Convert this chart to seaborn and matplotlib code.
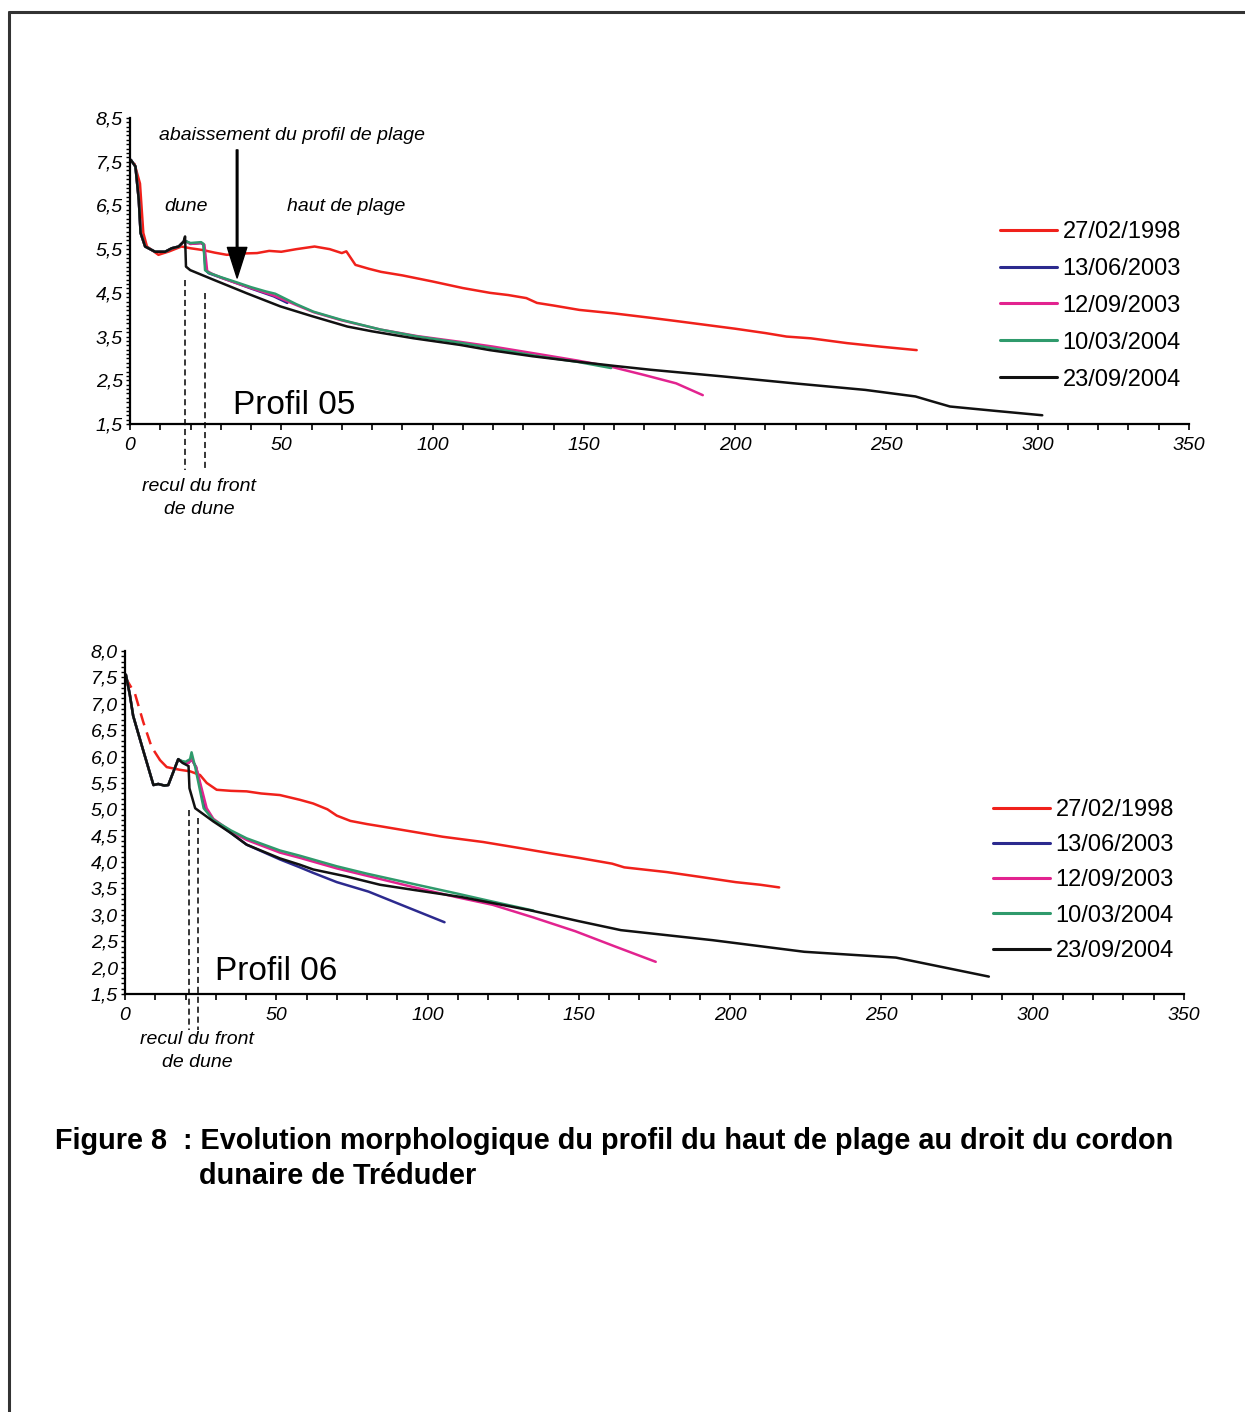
import matplotlib
matplotlib.use("Agg")
import matplotlib.pyplot as plt
from matplotlib.lines import Line2D
from matplotlib.ticker import MultipleLocator
import pandas as pd
import seaborn as sns

# survey dates and their colours
DATES = ["27/02/1998", "13/06/2003", "12/09/2003", "10/03/2004", "23/09/2004"]
COLORS = ["#f0211b", "#2c2a8e", "#e2238f", "#2f9a6c", "#111111"]

# ---------------- Profil 05 (distance m, altitude m) ----------------
p05_1998_x = [1.5, 3.3, 4.4, 5.6, 9.4, 13, 17, 20, 24, 28, 32, 37, 42, 46, 50, 55, 61, 66, 70,
              71.5, 74.5, 79, 83, 90, 100, 110, 119, 125, 131, 134.5, 140, 148.5, 160, 172,
              180, 190, 200, 210, 217, 225, 237, 248, 260]
p05_1998_y = [7.45, 7.0, 5.87, 5.56, 5.37, 5.45, 5.56, 5.52, 5.48, 5.42, 5.37, 5.40, 5.41, 5.46,
              5.44, 5.50, 5.56, 5.50, 5.41, 5.45, 5.14, 5.05, 4.98, 4.90, 4.76, 4.61, 4.50, 4.45,
              4.38, 4.27, 4.21, 4.11, 4.03, 3.93, 3.86, 3.77, 3.68, 3.58, 3.50, 3.46, 3.35, 3.27,
              3.19]

# dune part shared by the 2003/2004 surveys
p05_dune_x = [0.3, 1.8, 2.9, 3.5, 5.0, 8.3, 11.6, 13.8, 16.1, 17.7]
p05_dune_y = [7.54, 7.39, 6.63, 5.87, 5.56, 5.44, 5.44, 5.52, 5.56, 5.67]

p05_2003a_x = p05_dune_x + [18.5, 20, 23.5, 24.3, 25.0, 26, 30, 35.3, 40, 47.5, 52]
p05_2003a_y = p05_dune_y + [5.68, 5.62, 5.64, 5.60, 5.02, 4.95, 4.85, 4.72, 4.60, 4.42, 4.27]

p05_2003b_x = p05_dune_x + [18.5, 20, 23.5, 24.6, 25.5, 27, 30, 35.3, 40, 47.5, 55, 60.6, 70,
                            82.8, 95, 109, 120, 135, 148, 159, 170, 180.5, 189.3]
p05_2003b_y = p05_dune_y + [5.68, 5.62, 5.64, 5.60, 5.00, 4.94, 4.85, 4.72, 4.61, 4.44, 4.22,
                            4.06, 3.87, 3.66, 3.51, 3.38, 3.27, 3.10, 2.95, 2.81, 2.62, 2.43, 2.16]

p05_2004a_x = p05_dune_x + [18.5, 20, 23.5, 24.3, 24.8, 26, 30, 35.3, 40, 45, 48, 55, 60.6, 70,
                            82.8, 95, 109, 120, 135, 148, 159]
p05_2004a_y = p05_dune_y + [5.68, 5.64, 5.66, 5.62, 5.02, 4.96, 4.86, 4.74, 4.63, 4.53, 4.48,
                            4.24, 4.07, 3.88, 3.66, 3.50, 3.36, 3.23, 3.05, 2.92, 2.78]

p05_2004b_x = p05_dune_x + [18.2, 18.5, 19.9, 27.6, 38.6, 49.7, 60, 71.8, 80, 93.8, 109, 118.9,
                            133, 148.5, 160, 172.2, 195.7, 219.5, 243, 259.6, 265, 271, 286, 301.5]
p05_2004b_y = p05_dune_y + [5.79, 5.10, 5.02, 4.80, 4.49, 4.19, 3.97, 3.73, 3.62, 3.46, 3.31,
                            3.19, 3.05, 2.92, 2.83, 2.74, 2.59, 2.43, 2.28, 2.13, 2.02, 1.90,
                            1.80, 1.70]

# ---------------- Profil 06 ----------------
p06_1998_gap_x = [0.0, 3.3, 6.0, 8.8, 11.6]
p06_1998_gap_y = [7.51, 7.19, 6.66, 6.18, 5.93]
p06_1998_x = [11.6, 13.8, 18, 21.5, 24.8, 27, 30.3, 35, 40.2, 45, 51.2, 57.8, 62.2, 66.9, 70,
              74.5, 80, 84.3, 95.7, 105, 118.4, 130, 141.2, 150, 161, 165, 179.1, 190, 201.8,
              210, 216.2]
p06_1998_y = [5.93, 5.80, 5.75, 5.72, 5.65, 5.50, 5.37, 5.35, 5.34, 5.30, 5.27, 5.18, 5.11, 5.00,
              4.88, 4.78, 4.72, 4.68, 4.57, 4.48, 4.38, 4.27, 4.16, 4.08, 3.97, 3.90, 3.81, 3.72,
              3.62, 3.57, 3.52]

p06_dune_x = [0.3, 1.6, 2.7, 6.0, 9.4, 11, 13, 14.3, 17.6]
p06_dune_y = [7.55, 7.17, 6.77, 6.12, 5.46, 5.48, 5.45, 5.46, 5.95]

p06_2003a_x = p06_dune_x + [19, 21, 22, 23.5, 26.5, 29.2, 35, 40.2, 51.2, 57.8, 62, 70, 80.5,
                            90, 105.6]
p06_2003a_y = p06_dune_y + [5.90, 5.88, 5.95, 5.80, 5.02, 4.80, 4.55, 4.33, 4.05, 3.90, 3.80,
                            3.62, 3.44, 3.22, 2.86]

p06_2003b_x = p06_dune_x + [19, 21, 22, 23.5, 27, 29.2, 35, 40.2, 51.2, 57.8, 70, 80, 95.7, 110,
                            121.5, 135, 148.8, 162, 175.4]
p06_2003b_y = p06_dune_y + [5.90, 5.88, 5.95, 5.80, 5.02, 4.82, 4.58, 4.42, 4.18, 4.08, 3.88,
                            3.74, 3.52, 3.33, 3.19, 2.95, 2.69, 2.40, 2.11]

p06_2004a_x = p06_dune_x + [18.5, 20, 21.5, 22, 23.2, 26, 29.2, 35, 40.2, 51.2, 57.8, 70, 80,
                            95.7, 110, 120, 135]
p06_2004a_y = p06_dune_y + [5.92, 5.90, 5.95, 6.08, 5.80, 5.02, 4.80, 4.60, 4.45, 4.22, 4.12,
                            3.92, 3.78, 3.58, 3.40, 3.27, 3.08]

p06_2004b_x = p06_dune_x + [19, 21, 21.3, 23.2, 29.2, 35, 40.2, 51.2, 57.8, 62.2, 73, 84.3, 95.7,
                            110.9, 133.6, 150, 163.9, 194.2, 224.5, 254.8, 285.5]
p06_2004b_y = p06_dune_y + [5.88, 5.82, 5.40, 5.02, 4.77, 4.55, 4.33, 4.07, 3.95, 3.86, 3.73,
                            3.57, 3.47, 3.34, 3.09, 2.88, 2.71, 2.52, 2.30, 2.19, 1.83]

# axes ticks
x_ticks = [0, 50, 100, 150, 200, 250, 300, 350]
x_ticklabels = ["0", "50", "100", "150", "200", "250", "300", "350"]
y05_ticks = [1.5, 2.5, 3.5, 4.5, 5.5, 6.5, 7.5, 8.5]
y05_ticklabels = ["1,5", "2,5", "3,5", "4,5", "5,5", "6,5", "7,5", "8,5"]
y06_ticks = [1.5, 2.0, 2.5, 3.0, 3.5, 4.0, 4.5, 5.0, 5.5, 6.0, 6.5, 7.0, 7.5, 8.0]
y06_ticklabels = ["1,5", "2,0", "2,5", "3,0", "3,5", "4,0", "4,5", "5,0", "5,5", "6,0", "6,5",
                  "7,0", "7,5", "8,0"]

# dune front retreat markers (x, top of dashed line)
retreat05_x = [18.2, 24.8]
retreat05_top = [4.8, 4.5]
retreat06_x = [21.1, 24.1]
retreat06_top = [4.98, 4.83]


def long_frame(xs, ys):
    parts = [pd.DataFrame({"distance": x, "altitude": y, "date": d})
             for d, x, y in zip(DATES, xs, ys)]
    return pd.concat(parts, ignore_index=True)


df05 = long_frame([p05_1998_x, p05_2003a_x, p05_2003b_x, p05_2004a_x, p05_2004b_x],
                  [p05_1998_y, p05_2003a_y, p05_2003b_y, p05_2004a_y, p05_2004b_y])
df06 = long_frame([p06_1998_x, p06_2003a_x, p06_2003b_x, p06_2004a_x, p06_2004b_x],
                  [p06_1998_y, p06_2003a_y, p06_2003b_y, p06_2004a_y, p06_2004b_y])

sns.set_style("ticks", {"text.color": "black", "xtick.color": "black", "ytick.color": "black",
                        "axes.edgecolor": "black", "axes.labelcolor": "black"})
plt.rcParams["font.family"] = ["Liberation Sans", "DejaVu Sans"]

W, H = 1245, 1412
fig = plt.figure(figsize=(W / 100, H / 100), dpi=100)
palette = dict(zip(DATES, COLORS))

ax1 = fig.add_axes([130 / W, 1 - 424 / H, 1059 / W, 306 / H])
ax2 = fig.add_axes([125 / W, 1 - 994 / H, 1059 / W, 343 / H])


def style_axis(ax, yticks, ylabels, ylim):
    ax.set_xlim(0, 350)
    ax.set_ylim(*ylim)
    ax.set_xlabel("")
    ax.set_ylabel("")
    ax.set_xticks(x_ticks, labels=x_ticklabels, fontstyle="italic", fontsize=14)
    ax.set_yticks(yticks, labels=ylabels, fontstyle="italic", fontsize=14)
    ax.xaxis.set_minor_locator(MultipleLocator(10))
    ax.yaxis.set_minor_locator(MultipleLocator(0.1))
    ax.tick_params(axis="x", which="both", direction="out", length=4, width=1.2, pad=5,
                   bottom=True, colors="black")
    ax.tick_params(axis="y", which="both", direction="out", length=3, width=1.0, pad=2,
                   left=True, colors="black")
    sns.despine(ax=ax)
    for side in ["left", "bottom"]:
        ax.spines[side].set_linewidth(1.6)
        ax.spines[side].set_color("black")


def add_legend(ax, x_px, y_px, spacing):
    handles, labels = ax.get_legend_handles_labels()
    leg = ax.legend(handles, labels, loc="upper left",
                    bbox_to_anchor=(x_px / W, 1 - y_px / H), bbox_transform=fig.transFigure,
                    frameon=False, fontsize=17, handlelength=2.4, handletextpad=0.25,
                    labelspacing=spacing, borderpad=0, borderaxespad=0)
    for line in leg.get_lines():
        line.set_linewidth(2.2)
    for txt in leg.get_texts():
        txt.set_color("black")


# ---- Profil 05 ----
sns.lineplot(data=df05, x="distance", y="altitude", hue="date", hue_order=DATES,
             palette=palette, estimator=None, sort=False, lw=1.8, ax=ax1)
style_axis(ax1, y05_ticks, y05_ticklabels, (1.5, 8.5))
add_legend(ax1, 1000, 221, 0.63)

ax1.annotate("", xy=(35.4, 4.84), xytext=(35.4, 7.77),
             arrowprops=dict(facecolor="black", edgecolor="black", width=1.2,
                             headwidth=14, headlength=22))
ax1.text(53.6, 8.09, "abaissement du profil de plage", fontsize=14, fontstyle="italic",
         ha="center", va="center")
ax1.text(18.5, 6.47, "dune", fontsize=14, fontstyle="italic", ha="center", va="center")
ax1.text(71.5, 6.47, "haut de plage", fontsize=14, fontstyle="italic", ha="center", va="center")
ax1.text(34.1, 1.93, "Profil 05", fontsize=24, ha="left", va="center")
for xr, top in zip(retreat05_x, retreat05_top):
    ax1.plot([xr, xr], [top, 0.45], color="black", lw=1.1, ls=(0, (4, 2.5)), clip_on=False)
fig.text(199 / W, 1 - 478 / H, "recul du front\nde dune", fontsize=14, fontstyle="italic",
         ha="center", va="top", linespacing=1.45)

# ---- Profil 06 ----
sns.lineplot(x=p06_1998_gap_x, y=p06_1998_gap_y, color=COLORS[0], lw=1.8,
             linestyle=(0, (5, 3)), legend=False, ax=ax2)
sns.lineplot(data=df06, x="distance", y="altitude", hue="date", hue_order=DATES,
             palette=palette, estimator=None, sort=False, lw=1.8, ax=ax2)
style_axis(ax2, y06_ticks, y06_ticklabels, (1.5, 8.0))
add_legend(ax2, 993, 799, 0.56)

ax2.text(29.7, 1.92, "Profil 06", fontsize=24, ha="left", va="center")
for xr, top in zip(retreat06_x, retreat06_top):
    ax2.plot([xr, xr], [top, 0.82], color="black", lw=1.1, ls=(0, (4, 2.5)), clip_on=False)
fig.text(197 / W, 1 - 1031 / H, "recul du front\nde dune", fontsize=14, fontstyle="italic",
         ha="center", va="top", linespacing=1.45)

# caption
fig.text(55 / W, 1 - 1141 / H,
         "Figure 8  : Evolution morphologique du profil du haut de plage au droit du cordon",
         fontsize=20.8, fontweight="bold", ha="left", va="center", color="black")
fig.text(199 / W, 1 - 1176 / H, "dunaire de Tréduder", fontsize=20.8, fontweight="bold",
         ha="left", va="center", color="black")

# page frame
fig.add_artist(Line2D([9 / W, 1.0], [1 - 12 / H, 1 - 12 / H], color="#333333", lw=2.2,
                      transform=fig.transFigure))
fig.add_artist(Line2D([9 / W, 9 / W], [0.0, 1 - 12 / H], color="#333333", lw=2.2,
                      transform=fig.transFigure))

fig.savefig("out.png", dpi=100)
